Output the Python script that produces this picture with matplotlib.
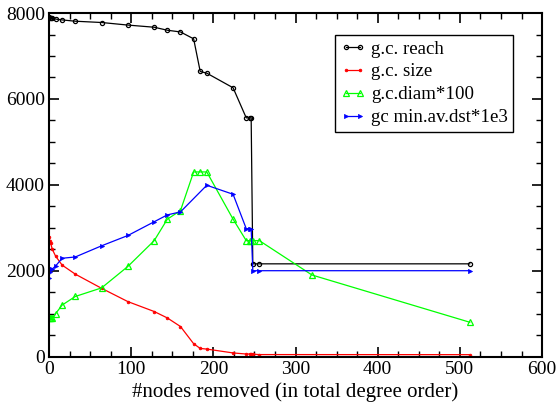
import matplotlib
matplotlib.use('Agg')
import matplotlib.pyplot as plt
from matplotlib.ticker import MultipleLocator

plt.rcParams['font.family'] = ['Liberation Serif', 'DejaVu Serif']

# g.c. reach
reach_x = [0, 1, 2, 4, 8, 16, 32, 64, 96, 128, 144, 160, 176, 184, 192, 224,
           240, 244, 246, 248, 256, 512]
reach_y = [7900, 7890, 7880, 7875, 7860, 7840, 7810, 7780, 7720, 7670, 7600,
           7560, 7400, 6640, 6600, 6260, 5560, 5560, 5560, 2160, 2160, 2160]

# g.c. size
size_x = [0, 1, 2, 4, 8, 16, 32, 64, 96, 128, 144, 160, 176, 184, 192, 224,
          240, 244, 246, 248, 256, 512]
size_y = [2790, 2700, 2640, 2500, 2340, 2130, 1920, 1590, 1280, 1050, 900,
          700, 300, 190, 175, 85, 60, 60, 60, 55, 47, 45]

# g.c. diameter * 100
diam_x = [0, 1, 2, 4, 8, 16, 32, 64, 96, 128, 144, 160, 176, 184, 192, 224,
          240, 244, 246, 248, 256, 320, 512]
diam_y = [900, 900, 900, 900, 1000, 1200, 1400, 1600, 2100, 2700, 3200, 3400,
          4300, 4300, 4300, 3200, 2700, 2700, 2700, 2700, 2700, 1900, 800]

# gc min. avg. distance * 1e3
dst_x = [0, 1, 2, 4, 8, 16, 32, 64, 96, 128, 144, 160, 192, 224,
         240, 244, 246, 248, 256, 512]
dst_y = [1820, 1960, 2030, 2040, 2110, 2290, 2320, 2580, 2820, 3140, 3300,
         3370, 3990, 3780, 2980, 2980, 2980, 2000, 2000, 2000]

fig = plt.figure(figsize=(5.6, 4.08), dpi=100)
ax = fig.add_axes([0.0875, 0.126, 0.8805, 0.842])

ax.plot(reach_x, reach_y, color='black', lw=0.9, marker='o', ms=3,
        mfc='none', mew=0.9, label='g.c. reach')
ax.plot(size_x, size_y, color='red', lw=0.9, marker='o', ms=2,
        mew=0.5, label='g.c. size')
ax.plot(diam_x, diam_y, color='#00ff00', lw=0.9, marker='^', ms=4.5,
        mfc='none', mew=0.9, label='g.c.diam*100')
ax.plot(dst_x, dst_y, color='blue', lw=0.9, marker='>', ms=3,
        mew=0.5, label='gc min.av.dst*1e3')

ax.set_xlim(0, 600)
ax.set_ylim(0, 8000)
ax.xaxis.set_major_locator(MultipleLocator(100))
ax.xaxis.set_minor_locator(MultipleLocator(25))
ax.yaxis.set_major_locator(MultipleLocator(2000))
ax.yaxis.set_minor_locator(MultipleLocator(500))
ax.tick_params(which='both', direction='in', top=True, right=True,
               labelsize=14, pad=3)
ax.tick_params(which='major', length=7, width=1.2)
ax.tick_params(which='minor', length=4, width=1)
for s in ax.spines.values():
    s.set_linewidth(1.5)

ax.set_xlabel('#nodes removed (in total degree order)', fontsize=15,
              labelpad=3)

leg = ax.legend(loc='upper left', bbox_to_anchor=(0.58, 0.937), fontsize=13.6,
                numpoints=2, handlelength=1.3, handletextpad=0.3,
                labelspacing=0.3, borderpad=0.3, fancybox=False,
                framealpha=1, edgecolor='black', borderaxespad=0)
leg.get_frame().set_linewidth(1)

fig.savefig('out.png', dpi=100)
